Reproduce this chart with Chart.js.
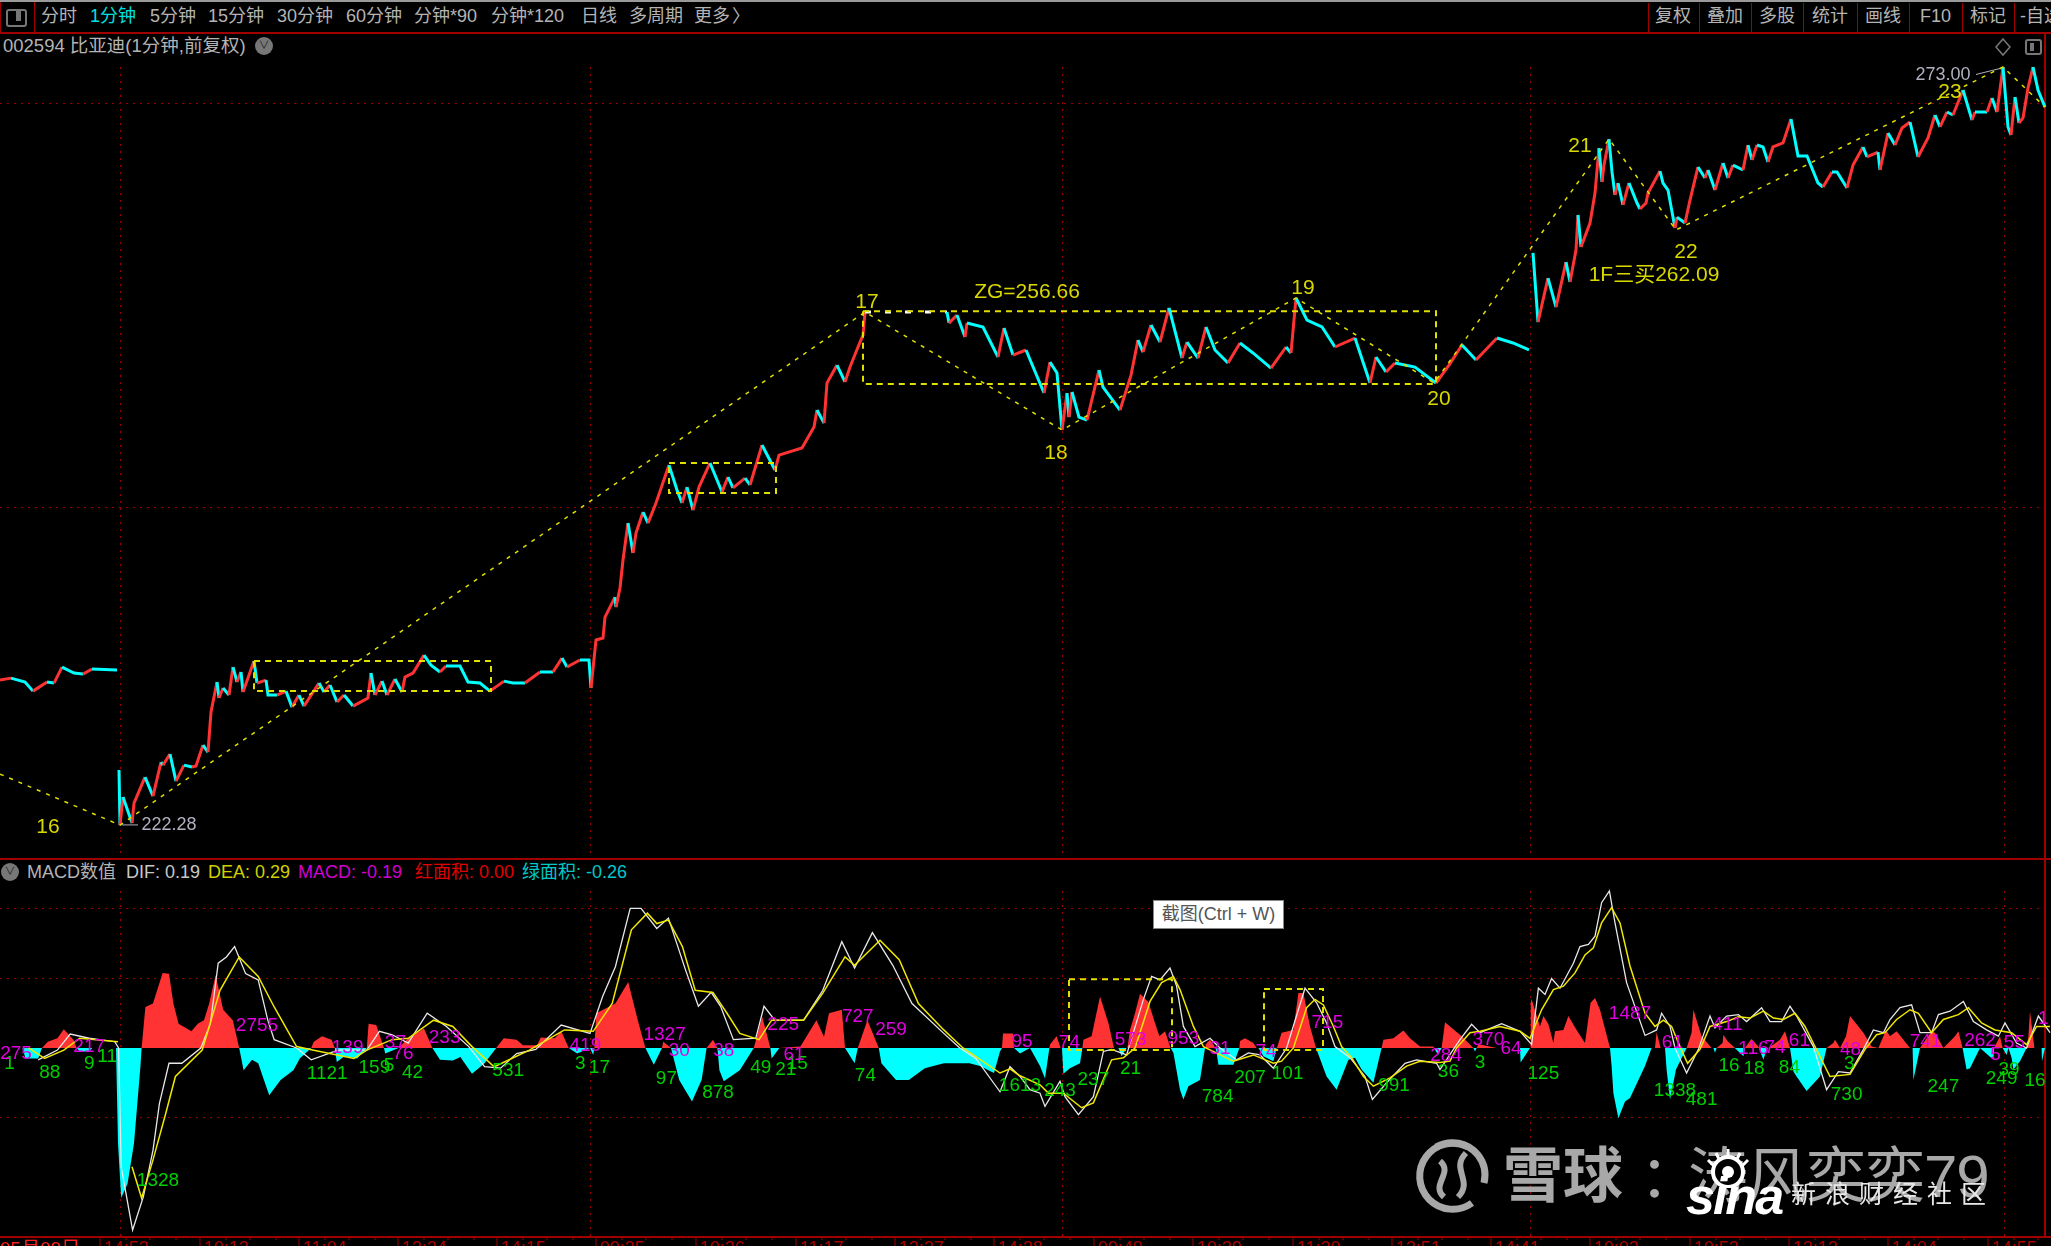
<!DOCTYPE html>
<html>
<head>
<meta charset="utf-8">
<title>002594</title>
<script src="https://cdn.jsdelivr.net/npm/chart.js@4/dist/chart.umd.min.js"></script>
<style>
html,body{margin:0;padding:0;background:#000;width:2051px;height:1246px;overflow:hidden;}
body{position:relative;font-family:"Liberation Sans","Noto Sans CJK SC",sans-serif;}
canvas{position:absolute;left:0;}
.t{position:absolute;white-space:nowrap;font-size:18px;line-height:20px;color:#b4b4b4;}
.line{position:absolute;background:#a00000;}
</style>
</head>
<body>
<div class="line" style="left:0;top:0;width:2051px;height:2px;background:#9a9a9a"></div>
<div class="line" style="left:0;top:32px;width:2051px;height:2px"></div>
<div class="line" style="left:0;top:858px;width:2051px;height:2px"></div>
<div class="line" style="left:0;top:1236px;width:2051px;height:2px"></div>
<div class="line" style="left:2044px;top:33px;width:2px;height:1204px"></div>
<div class="line" style="left:34px;top:2px;width:1px;height:30px"></div>
<div class="line" style="left:0;top:2px;width:1px;height:30px"></div>
<div id="toolbar"></div>
<div style="position:absolute;left:6px;top:9px;width:17px;height:14px;border:2px solid #777;border-radius:3px"></div>
<div style="position:absolute;left:16px;top:11px;width:5px;height:10px;background:#777"></div>
<div class="t" style="left:3px;top:36px;font-size:18.5px">002594 比亚迪(1分钟,前复权)</div>
<div style="position:absolute;left:255px;top:37px;width:18px;height:18px;border-radius:9px;background:#777;color:#222;font-size:11px;line-height:17px;text-align:center">&#8744;</div>
<svg style="position:absolute;left:1992px;top:36px" width="56" height="22">
  <path d="M11 3 L18 11 L11 19 L4 11 Z" fill="none" stroke="#777" stroke-width="1.5"/>
  <rect x="34" y="4" width="15" height="14" rx="2" fill="none" stroke="#777" stroke-width="2"/>
  <rect x="38" y="7" width="4" height="8" fill="#777"/>
</svg>
<div style="position:absolute;left:1px;top:863px;width:18px;height:18px;border-radius:9px;background:#777;color:#222;font-size:11px;line-height:17px;text-align:center">&#8744;</div>
<div class="t" style="left:27px;top:862px;font-size:18px">MACD数值</div>
<div class="t" style="left:126px;top:862px;font-size:18px;color:#c8c8c8">DIF: 0.19</div>
<div class="t" style="left:208px;top:862px;font-size:18px;color:#d0d000">DEA: 0.29</div>
<div class="t" style="left:298px;top:862px;font-size:18px;color:#d000d0">MACD: -0.19</div>
<div class="t" style="left:415px;top:862px;font-size:18px;color:#e00000">红面积: 0.00</div>
<div class="t" style="left:522px;top:862px;font-size:18px;color:#00c8c8">绿面积: -0.26</div>

<canvas id="mainChart" width="2051" height="826" style="top:33px"></canvas>
<canvas id="macdChart" width="2051" height="386" style="top:860px"></canvas>

<div class="t" style="left:1153px;top:900px;width:129px;height:27px;line-height:27px;background:#fff;border:1px solid #888;color:#555;text-align:center">截图(Ctrl + W)</div>

<svg style="position:absolute;left:1410px;top:1135px" width="90" height="84">
  <path d="M58 12 A33 33 0 1 0 62 68" fill="none" stroke="#a8a8a8" stroke-width="7"/>
  <path d="M26 12 A33 33 0 0 1 68 20 A33 33 0 0 1 74 48" fill="none" stroke="#a8a8a8" stroke-width="7"/>
  <path d="M30 26 C44 38 20 50 34 62 M56 18 C40 34 64 46 48 62" fill="none" stroke="#a8a8a8" stroke-width="6"/>
</svg>
<div class="t" style="left:1503px;top:1145px;font-size:60px;line-height:64px;color:#a8a8a8;font-weight:bold">雪球</div>
<div class="t" style="left:1640px;top:1145px;font-size:58px;line-height:64px;color:#a8a8a8">：</div>
<div class="t" style="left:1688px;top:1145px;font-size:60px;line-height:64px;color:#a8a8a8;letter-spacing:-1px">涛风奕奕79</div>
<svg style="position:absolute;left:1700px;top:1148px" width="60" height="40">
  <circle cx="28" cy="24" r="15" fill="#000" stroke="#fff" stroke-width="4"/>
  <circle cx="28" cy="24" r="6" fill="#fff"/>
  <path d="M8 12 L14 18 M16 5 L20 13 M28 1 L28 10 M40 5 L36 13 M48 12 L42 18" stroke="#fff" stroke-width="3"/>
</svg>
<div class="t" style="left:1686px;top:1170px;font-size:52px;line-height:52px;color:#fff;font-weight:bold;font-style:italic;letter-spacing:-2px">sina</div>
<div class="t" style="left:1791px;top:1180px;font-size:25px;line-height:28px;color:#e8e8e8;letter-spacing:9px">新浪财经社区</div>

<script>
// price line (bar number, price); null breaks the line at the day gaps
const priceBars = [0,5.5,12.5,16.5,23.5,27,31,37,41.5,46,58.5,59,
59.5,60,61.5,66,67,72.5,76.5,80.5,81.5,85,88,92,96,98,101.5,104,105.5,108.5,109.5,111.5,114.5,116.5,118.5,120.5,121.5,127,128.5,133,134,138.5,143,146,149.5,152,159.5,162,165,168.5,172,176.5,184,185.5,187.5,191,193.5,197.5,201,202.5,206.5,212,215.5,220,223,230,234,240,245,252,256.5,262.5,270,276.5,281,283.5,290,294.5,295.5,
298,301.5,302.5,307.5,308,310,311.5,314,316.5,318,321.5,324,328,334.5,338.5,341,343.5,346.5,349.5,355,361,364,366.5,372.5,375,381,387.5,389.5,401,407,408.5,412,413.5,418.5,422.5,425,429,431.5,432.5,473.5,474.5,478.5,482.5,483.5,491.5,499,502,506.5,513,522,525,528.5,531,533.5,534.5,536,539.5,543.5,549.5,551.5,560,565.5,569,571.5,575.5,580,584.5,591,593.5,599,603,607.5,614,620,626.5,635.5,643,645.5,648,653.5,661,667.5,677.5,685,688,693,697.5,707.5,718,724.5,731,738,748.5,756.5,764.5,765.5,
766.5,769,774,778,783,785,788,789,790.5,795,797.5,799.5,801,802,804.5,806,807.5,809,811.5,814.5,818.5,820,823,824,830,831.5,834,837.5,838.5,842.5,845,849,852.5,854,857.5,861.5,864,866.5,871.5,874,876,878.5,881.5,884,886.5,891.5,895.5,899,903.5,909,911.5,916,918.5,923.5,926.5,931.5,933.5,939,940,944,947.5,951,955,959,964,967.5,970,973.5,976.5,981.5,986,987.5,993.5,996,998.5,1001.5,1004,1005.5,1007.5,1009.5,1011.5,1014,1016.5,1019,1022.5];
const priceValues = [231.99,232.12,231.86,231.25,231.86,231.79,232.86,232.46,232.39,232.73,232.66,null,
225.97,222.29,224.16,222.42,223.76,225.5,224.23,226.5,226.3,227.04,225.23,226.3,226.17,226.24,227.64,227.17,229.85,231.86,230.79,231.46,230.99,232.86,231.86,232.53,231.19,233.26,231.79,231.99,230.99,230.99,231.25,230.18,230.99,230.25,231.79,231.19,231.66,230.52,230.99,230.25,230.79,232.46,230.99,231.92,230.99,232.06,231.19,232.19,232.46,233.66,232.99,232.53,232.93,232.93,231.86,231.79,231.25,231.92,231.79,231.79,232.53,232.53,233.46,232.86,233.33,233.33,231.46,
234.67,234.8,236.2,237.54,236.87,238.15,240.02,242.49,240.49,241.82,243.23,242.49,243.83,246.37,244.7,243.83,244.9,243.36,244.9,246.51,244.57,245.57,244.84,245.5,245.04,247.71,246.04,247.04,247.51,248.92,250.05,249.18,251.86,253.06,251.93,252.93,254.27,255.07,256.61,256.61,255.87,256.41,254.94,255.87,255.61,253.6,255.54,253.73,254.07,251.19,253.26,252.53,248.72,251.19,249.58,251.26,249.58,249.38,252.73,251.59,250.05,252.39,254.74,253.93,255.74,254.6,256.88,253.53,254.6,253.53,255.61,254.07,253.2,254.54,253.87,252.86,254.27,253.87,257.55,256.07,255.61,254.27,254.87,251.86,253.6,252.6,253.2,252.93,251.86,253.06,254.4,253.4,254.87,254.54,254.07,null,
260.56,255.94,258.88,256.94,259.95,258.62,260.76,263.1,260.96,262.56,264.57,267.58,265.31,266.44,268.18,265.98,264.44,265.24,263.77,265.24,263.9,263.5,263.9,264.57,266.04,265.24,264.77,262.23,262.96,262.56,264.1,266.31,265.57,266.11,264.77,266.58,265.57,266.44,266.11,267.78,266.78,267.78,267.65,266.64,267.65,267.92,269.52,267.05,267.05,265.24,264.97,265.98,265.98,264.91,266.44,267.65,266.98,267.31,266.11,268.58,267.78,268.92,269.32,266.98,268.25,269.79,268.99,269.99,269.79,271.46,269.45,269.99,269.99,270.93,269.99,273,268.99,268.45,270.99,269.25,269.59,271.6,273,271.46,270.32];

// chan zigzag and its pivot boxes
const zigzagBars = [0,60,432.5,531,648,717,804.5,838,1001.5,1022.5];
const zigzagValues = [225.7,222.29,256.61,248.72,257.55,251.86,268.18,262.1,273,270.32];
const boxLeft = [127,334.5,431.5];
const boxRight = [245.5,388,718];
const boxTop = [233.26,246.51,256.66];
const boxBottom = [231.25,244.5,251.79];

const priceGridValues = [243.5,270.59];
const dayBars = [60,295,531,765,1002];

const mainTexts = ["16","17","ZG=256.66","18","19","20","21","22","1F三买262.09","23"];
const mainTextBars = [24,433.5,513.5,528,651.5,719.5,790,843,827,975];
const mainTextValues = [222.16,257.28,257.95,247.18,258.22,250.8,267.71,260.62,259.08,271.33];
const extremeTexts = ["222.28","273.00"];
const extremeBars = [84.5,971.5];
const extremeValues = [222.3,272.46];
const extremeArrowBars = [[61,69],[988,1000]];
const extremeArrowValues = [[222.3,222.3],[272.5,272.9]];

// MACD histogram
const macdBars = [0,11.2,12.8,19.1,21,23.9,28.7,31.9,36.7,38.3,39.9,44.6,46.2,58,59,60.6,63.8,67,70.2,70.8,72.7,76.5,81.3,84.5,86.7,89.3,95.7,98.9,102,104.6,107.8,111.6,116.4,119.6,121.8,126,129.1,134.6,140.3,146.7,149.9,155.6,156.9,161,165.8,167.4,168.4,172.2,178.6,183.4,184.3,188.1,192,192.6,199.3,204,212,216.2,220,226.4,230.2,236,242.3,248.1,251.9,258.3,261.5,268.5,270.4,277.4,280.6,284.4,288.6,295,296.6,297.2,298.1,307.7,314.1,318.9,322.7,326.9,331,331.6,335.5,339.6,346,350.8,353.3,356.5,358.7,359.7,361.9,369.9,376.9,381.1,385.2,385.8,389.7,400.2,408.2,412,414.5,420.9,422.5,427.3,428.9,433.7,439.4,440.7,448,454.4,462.4,471.9,484.7,490,497,500,501,501.5,506.5,507,510,515,520,522.5,524.7,
525,528.3,530.3,531,531.7,535,540,541.2,541.7,545.8,550,554.2,557,559.2,560.8,563.3,563.7,565,567.5,570,574.2,577.5,579.7,582.5,585.3,586.7,590,591.7,594.2,600,602.5,602.8,605,607.8,608.3,609.2,616.7,619.7,620,622.5,626.7,628.3,629.2,631.7,636.7,638.3,638.7,640.8,646.7,649.2,651.7,655,658,658.3,663.3,668.3,674.2,677.5,680.8,686.7,690.8,691.7,696.7,701.7,705,710,716.7,719,720.8,721.7,722.5,730.8,736.7,737.5,738.3,739.2,740,748.3,760,760.3,765,765.4,
765.8,770,771.7,774.2,776.7,777.5,781.7,784.2,788.3,792.5,795.3,797.5,800,805,805.8,806.7,809.2,812.5,815,822.5,825.8,827.5,828.3,830.3,832.5,833.3,835,838,843.3,845.8,846.7,850.8,855.8,856.7,857.5,858.3,861.3,861.7,863.7,866.7,871.7,872.5,874.2,875.8,879.2,881.7,883.3,890,892.5,895,896.7,898.3,903.3,910,913.3,916.7,917.5,920,923,925,931.7,935.8,939.2,941.7,943,945,948.3,955,956.3,956.7,960,965.8,967.5,971.7,977.5,979.2,981.3,983.3,985,990,996.7,997,1000,1001.3,1003.3,1004.2,1005.8,1006.7,1010,1013.3,1014.2,1015,1017.2,1020.8,1021,1022.5,1023];
const macdValues = [0,0,-0.15,-0.15,0,0.09,0.14,0.27,0.12,0,-0.05,-0.05,0,0,-1.37,-2.16,-1.95,-1.37,-0.27,0,0.59,0.64,1.08,1.07,0.64,0.35,0.24,0.35,0.4,0.64,1.05,0.55,0.4,0,-0.32,-0.17,-0.22,-0.68,-0.46,-0.32,-0.15,0,0.09,0.17,0.12,0,-0.2,-0.12,-0.15,0,0.35,0.33,0,-0.08,0,0.14,0.28,0,-0.17,-0.18,-0.13,-0.37,-0.22,0,0.14,0.12,0.04,0.04,0.15,0.14,0.24,0,-0.08,0,-0.1,0,0.5,0.64,0.95,0.4,0,-0.24,0,0.09,0,-0.46,-0.77,-0.46,0,0.12,0,-0.32,-0.48,-0.32,0,0.45,0,-0.15,0,0.02,0.4,0.16,0.5,0.55,0,-0.22,0,0.4,0,-0.22,-0.46,-0.46,-0.29,-0.22,-0.22,-0.26,-0.36,-0.05,0,0.21,0.21,0,-0.08,0,-0.26,-0.44,0,
0.05,0.17,0,0,-0.37,-0.29,-0.22,0,0.12,0.17,0.74,0.36,0,0,-0.12,0,0,0.26,0.5,0.78,0.66,0.36,0.17,0.24,0,-0.07,-0.6,-0.74,-0.55,-0.46,0,0.05,0.12,0,-0.07,-0.24,-0.24,0,0.1,0.14,0.07,0,0,-0.12,-0.19,0,0.02,0.22,0.26,0.79,0.79,0.31,0,0,-0.41,-0.6,-0.17,-0.14,-0.31,-0.5,0,0.12,0.14,0.25,0.14,0.02,0.02,-0.1,0,0.19,0.37,0.17,0,-0.05,0,0.05,0.05,0,0,-0.21,0,
0.65,0.7,0.31,0.46,0.34,0.07,0.24,0.26,0.46,0.26,0.07,0.65,0.72,0.55,0,-0.26,-0.65,-1.01,-0.77,-0.72,-0.26,0,0,0.23,0,0,-0.31,-0.74,-0.31,0,0.22,0.55,0.17,0,0,-0.07,0,0.07,0.19,0.1,0.02,-0.12,0,0.07,0.13,0.02,-0.17,-0.02,0.12,0.24,0,-0.34,-0.41,-0.62,-0.41,0,0.07,0.12,0,0.17,0.46,0.22,0.02,0,0.17,0.26,0.17,0.24,0,0,-0.46,0,0.24,0.22,0,0.17,0.24,0,-0.31,-0.29,0,-0.17,0,0.17,0,-0.1,0,-0.14,-0.31,-0.19,0,0.17,0.53,0,0,-0.19,0];

// DIF (white)
const difBars = [19.1,28.7,35.1,44.6,57.4,59.3,60.6,66.3,71.7,76.5,79.7,84.5,90.9,100.4,105.2,109.1,113.2,117.3,122.8,129.1,133.9,137.1,148.3,155.6,169,183.4,189.7,196.1,204.1,213.6,223.2,234.4,242.3,250.3,258.3,267.9,280.6,295,301.3,307.7,315.1,320.5,328.4,334.2,342.8,349.2,355.6,360.3,366.7,377.9,382,387.4,401.8,411.4,420.9,427.3,436.2,446.4,456,471.9,479.9,487.9,500,505,510,515,
520,522.5,530,532.5,539.2,546.7,551.7,555.8,563.3,571.7,575.8,580,585,588.3,591.7,597.5,605,610,618.3,624.2,630,636.7,643.3,652.5,658.3,663.3,667.5,675,682.5,686.2,693.3,702.5,708.3,718.3,720,726.7,730,735.8,740,750.8,760,765.8,
769.2,772.5,775.8,780,786.7,790,794.2,797.5,800.8,804.7,807.5,813.3,822.5,828.3,830.8,835,837.5,843.3,849.2,855,857.5,863.3,869.2,873.3,880.8,885,890.8,895,898.3,906.7,913.3,919.2,925,931.7,936.7,941.7,945,950,955.8,960,965.8,969.2,975,981.7,986.7,993.3,999.2,1002.5,1008.3,1013.3,1019.2,1025];
const difValues = [-0.17,-0.03,0.2,0.14,0.09,0,-1.71,-2.62,-2.14,-1.47,-0.8,-0.22,-0.22,0,0.35,1.22,1.31,1.46,1.07,0.98,0.4,0.12,0,-0.17,-0.03,-0.03,0.24,0.19,0.07,0.5,0.31,0.02,-0.27,-0.29,-0.08,-0.02,0.33,0.21,0.74,1.17,2.01,2.01,1.72,1.87,1.12,0.6,0.8,0.6,0.12,0.14,0.6,0.4,0.4,0.83,1.53,1.15,1.66,1.19,0.64,0.21,0,-0.15,-0.63,-0.27,-0.41,-0.6,
-0.65,-0.84,-0.48,-0.7,-0.96,-0.7,-0.05,-0.02,-0.1,0.7,1.03,0.98,1.15,0.89,0.31,0.02,0.14,0,-0.17,-0.07,-0.1,-0.29,0,0.86,0.65,0.36,0.02,-0.14,-0.41,-0.74,-0.5,-0.22,-0.17,-0.22,-0.31,-0.02,0.12,0.34,0.22,0.35,0.24,0.05,
0.86,0.77,1,0.86,1.22,1.46,1.49,1.61,2.09,2.26,1.8,0.94,0.18,0.26,0.5,0.31,0,-0.36,-0.02,0.46,0.29,0.46,0.48,0.38,0.58,0.38,0.38,0.6,0.46,0.02,-0.6,-0.34,-0.36,-0.02,0.26,0.22,0.41,0.58,0.62,0.22,0.22,0.48,0.53,0.67,0.38,0.26,0.17,0.36,0.07,0,0.46,0.22];

// DEA (yellow), broken once where the line restarts
const deaBars = [14.3,22.3,31.9,39.9,59,60,66,70.8,76.5,82.9,87.7,101.1,110,119.6,129.1,137.1,148.3,156.3,177,183.4,196.1,204.1,216.8,226.4,236,247.1,264.7,282.2,296.6,306.1,315.7,323.7,328.4,334.2,341.2,347.6,356.5,363.5,369.9,379.5,385.8,401.8,411.4,422.5,427.3,440,449.6,459.2,471.9,481.5,500,505,510,
520,524.2,531.7,540.8,546.7,555.8,561.7,567.5,575,580.8,586.7,590,596.7,601.7,616.7,626.7,636.7,640.8,646.7,653.3,657.5,661.7,666.7,670.8,675.8,681.7,686.7,695,703.3,710,720,725,728.3,735,740,750,760,765,
770.8,776.7,781.7,787.5,792.5,796.7,800.8,805.8,810,815,822.5,827.5,831.7,835.8,840,843.8,850,855,863.3,869.2,875,881.7,886.7,891.7,897.5,902.5,907.5,915,925,932.5,938.3,942.5,948.3,955,959.2,965.8,971.7,979.2,984.2,990.8,997.5,1005.8,1013.3,1018.3,1025];
const deaValues = [0,-0.15,-0.03,0.14,0.09,null,-1.71,-2.16,-1.61,-0.94,-0.41,-0.03,0.83,1.31,1.03,0.59,0.02,-0.03,-0.15,-0.03,0.12,0.14,0.4,0.31,0.02,-0.27,-0.03,0.26,0.24,0.64,1.7,1.94,1.79,1.84,1.46,0.83,0.8,0.5,0.21,0.12,0.4,0.4,0.79,1.31,1.19,1.55,1.27,0.64,0.26,0,-0.36,-0.3,-0.4,
-0.53,-0.65,-0.65,-0.86,-0.79,-0.17,-0.14,0,0.67,0.94,1.03,0.84,0.31,0.02,-0.19,-0.1,-0.22,-0.19,0,0.58,0.7,0.62,0.31,0.02,-0.14,-0.41,-0.55,-0.43,-0.26,-0.19,-0.21,-0.19,0,0.22,0.24,0.31,0.24,0.14,
0.55,0.84,0.89,1.08,1.34,1.44,1.8,2.02,1.8,1.18,0.5,0.31,0.4,0.31,0.02,-0.22,-0.02,0.31,0.38,0.45,0.43,0.53,0.43,0.41,0.5,0.31,0.02,-0.41,-0.38,-0.02,0.19,0.22,0.41,0.55,0.5,0.22,0.41,0.48,0.58,0.36,0.26,0.22,0.05,0.31,0.31];

const macdBoxLeft = [534.5,632];
const macdBoxRight = [586,661.5];
const macdBoxTop = [0.99,0.85];
const macdBoxBottom = [-0.03,-0.03];
const macdGridValues = [-1,1,2];

const pinkTexts = ["275","217","2755","139","37","76","233","419","1327","30","38","225","61","727","259","95","74","573","953","31","74","715","284","370","64","1487","61","411","116","74","61","48","741","262","5","55","1"];
const pinkBars = [8,44.6,128.5,173.8,197.7,201.5,222.3,292.7,332.3,339.6,361.9,391.6,397,428.9,445.5,511,534.7,565.3,591.7,610,633,663.7,723,744.2,755.5,815,836.2,863.7,876.7,887.5,899.7,925.3,962.8,990,997.8,1007.2,1021.7];
const pinkValues = [-0.08,0.02,0.32,0,0.07,-0.09,0.15,0.03,0.19,-0.04,-0.04,0.34,-0.1,0.45,0.26,0.09,0.07,0.12,0.13,-0.01,-0.06,0.37,-0.11,0.12,-0.01,0.49,0.07,0.33,-0.01,0,0.11,-0.02,0.09,0.11,-0.1,0.08,0.42];
const greenTexts = ["1","88","9","11","1328","1121","159","5","42","531","3","17","97","878","49","21","15","74","1613","243","237","21","784","207","101","991","36","3","125","1338","481","16","18","84","3","730","247","39","249","16"];
const greenBars = [4.8,24.9,44.6,53.6,79,163.6,187.2,194.5,206.3,254.1,290.2,299.7,333.2,359,380.4,392.9,398.6,432.7,510,530,546.7,565.3,608.8,625,643.8,697,724.2,740,771.7,837.5,850.8,864.5,877,894.7,924.7,923.3,971.7,1004.5,1000.8,1017.5];
const greenValues = [-0.22,-0.35,-0.22,-0.12,-1.91,-0.37,-0.28,-0.26,-0.35,-0.33,-0.23,-0.29,-0.44,-0.65,-0.29,-0.31,-0.22,-0.4,-0.55,-0.61,-0.46,-0.3,-0.7,-0.43,-0.37,-0.54,-0.34,-0.21,-0.37,-0.61,-0.74,-0.25,-0.3,-0.29,-0.22,-0.67,-0.56,-0.31,-0.44,-0.47];

const timeLabels = ["14:53","10:13","11:04","13:24","14:15","09:35","10:26","11:17","13:27","14:28","09:49","10:39","11:30","13:51","14:41","10:02","10:53","13:13","14:04","14:55"];
const timeBars = [50,100,149.5,199,248.5,298,348,398,447.5,497,547,596.5,646.5,696,745.5,795,845,894.5,944,994];

const toolbarLeft = ["分时","1分钟","5分钟","15分钟","30分钟","60分钟","分钟*90","分钟*120","日线","多周期","更多","〉"];
const toolbarLeftX = [41,90,150,208,277,346,414,491,581,629,694,732];
const toolbarRight = ["复权","叠加","多股","统计","画线","F10","标记","-自选"];
const toolbarRightX = [1655,1707,1759,1812,1865,1920,1970,2020];
const toolbarSeps = [1648,1699,1751,1803,1857,1909,1962,2014];

const RED = "#ff3333";
const CYAN = "#00ffff";
const YELLOW = "#e0e000";
const GRID = "#9a0000";
const LABEL_FONT = '"Liberation Sans","Noto Sans CJK SC",sans-serif';
const X_MAX = 1025.5;

function pts(xs, ys){
    return xs.map((x, i) => ({x: x, y: ys[i]}));
}

function boxPts(i, left, right, top, bottom){
    return [
        {x: left[i], y: top[i]},
        {x: right[i], y: top[i]},
        {x: right[i], y: bottom[i]},
        {x: left[i], y: bottom[i]},
        {x: left[i], y: top[i]}
    ];
}

function boxDataset(i, left, right, top, bottom){
    return {
        data: boxPts(i, left, right, top, bottom),
        borderColor: YELLOW,
        borderWidth: 2,
        borderDash: [6, 5],
        pointRadius: 0,
        clip: false,
        order: 1
    };
}

function scalesFor(gridValues, top, bottom){
    return {
        x: {
            type: "linear",
            min: 0,
            max: X_MAX,
            border: {display: false, dash: [2, 5]},
            grid: {color: GRID, drawTicks: false, lineWidth: 1},
            ticks: {display: false, autoSkip: false},
            afterBuildTicks: s => { s.ticks = dayBars.map(v => ({value: v})); }
        },
        y: {
            min: bottom,
            max: top,
            border: {display: false, dash: [2, 5]},
            grid: {color: GRID, drawTicks: false, lineWidth: 1},
            ticks: {display: false, autoSkip: false},
            afterBuildTicks: s => { s.ticks = gridValues.map(v => ({value: v})); }
        }
    };
}

function writeTexts(chart, texts, bars, values, color, size){
    const ctx = chart.ctx;
    ctx.save();
    ctx.font = size + "px " + LABEL_FONT;
    ctx.fillStyle = color;
    ctx.textAlign = "center";
    ctx.textBaseline = "middle";
    texts.forEach((t, i) => {
        ctx.fillText(t, chart.scales.x.getPixelForValue(bars[i]), chart.scales.y.getPixelForValue(values[i]));
    });
    ctx.restore();
}

const mainLabels = {
    id: "mainLabels",
    afterDatasetsDraw(chart){
        writeTexts(chart, mainTexts, mainTextBars, mainTextValues, "#d8d800", 21);
        writeTexts(chart, extremeTexts, extremeBars, extremeValues, "#b0b0c0", 18);
    }
};

const macdLabels = {
    id: "macdLabels",
    afterDatasetsDraw(chart){
        writeTexts(chart, greenTexts, greenBars, greenValues, "#00d000", 19);
        writeTexts(chart, pinkTexts, pinkBars, pinkValues, "#e000e0", 19);

        const ctx = chart.ctx;
        const x = chart.scales.x;
        const bottom = chart.chartArea.bottom;
        ctx.save();
        ctx.strokeStyle = "#a00000";
        ctx.lineWidth = 1;
        ctx.fillStyle = "#b00000";
        ctx.font = "18px " + LABEL_FONT;
        ctx.textBaseline = "top";
        ctx.textAlign = "left";
        timeBars.forEach((b, i) => {
            const px = x.getPixelForValue(b);
            ctx.beginPath();
            ctx.moveTo(px, bottom);
            ctx.lineTo(px, bottom + 9);
            [13, 25, 38].forEach(off => {
                const m = x.getPixelForValue(b + off);
                ctx.moveTo(m, bottom);
                ctx.lineTo(m, bottom + 3);
            });
            ctx.stroke();
            ctx.fillText(timeLabels[i], px + 4, bottom + 3);
        });
        ctx.fillStyle = "#ff2020";
        ctx.font = "19px " + LABEL_FONT;
        ctx.fillText("05月09日", 0, bottom + 3);
        ctx.restore();
    }
};

function isFlatRun(c){
    return c.p1.parsed.y === c.p0.parsed.y && c.p1.parsed.x - c.p0.parsed.x > 20;
}

function buildToolbar(){
    let html = "";
    toolbarLeft.forEach((t, i) => {
        const c = i === 1 ? "color:#00e0e0;" : "";
        html += `<div class="t" style="left:${toolbarLeftX[i]}px;top:6px;${c}">${t}</div>`;
    });
    toolbarRight.forEach((t, i) => {
        html += `<div class="t" style="left:${toolbarRightX[i]}px;top:6px;max-width:${2051 - toolbarRightX[i]}px;overflow:hidden">${t}</div>`;
    });
    toolbarSeps.forEach(x => {
        html += `<div class="line" style="left:${x}px;top:3px;width:1px;height:29px"></div>`;
    });
    document.getElementById("toolbar").innerHTML = html;
}

function buildMain(){
    const datasets = [
        {
            data: pts(priceBars, priceValues),
            borderWidth: 3,
            borderColor: CYAN,
            pointRadius: 0,
            clip: false,
            order: 3,
            borderCapStyle: "butt",
            borderJoinStyle: "miter",
            segment: {
                borderColor: c => {
                    if(c.p1.parsed.y > c.p0.parsed.y) return RED;
                    if(isFlatRun(c)) return "#ffffff";
                    return CYAN;
                },
                borderDash: c => isFlatRun(c) ? [6, 14] : undefined
            }
        },
        {
            data: pts(zigzagBars, zigzagValues),
            borderColor: YELLOW,
            borderWidth: 1.5,
            borderDash: [4, 6],
            pointRadius: 0,
            clip: false,
            order: 2
        }
    ];
    boxLeft.forEach((v, i) => datasets.push(boxDataset(i, boxLeft, boxRight, boxTop, boxBottom)));
    extremeArrowBars.forEach((b, i) => {
        datasets.push({
            data: pts(b, extremeArrowValues[i]),
            borderColor: "#b0b0c0",
            borderWidth: 1,
            pointRadius: 0,
            clip: false,
            order: 0
        });
    });

    new Chart(document.getElementById("mainChart"), {
        type: "line",
        data: {datasets: datasets},
        options: {
            responsive: false,
            animation: false,
            devicePixelRatio: 1,
            layout: {padding: {top: 34, bottom: 0, left: 0, right: 0}},
            plugins: {legend: {display: false}, tooltip: {enabled: false}},
            scales: scalesFor(priceGridValues, 273, 220.02)
        },
        plugins: [mainLabels]
    });
}

function buildMacd(){
    const datasets = [
        {
            data: pts(macdBars, macdValues),
            borderWidth: 0,
            pointRadius: 0,
            fill: {target: {value: 0}, above: RED, below: CYAN},
            order: 5
        },
        {
            data: pts(difBars, difValues),
            borderColor: "#e8e8e8",
            borderWidth: 1.3,
            pointRadius: 0,
            clip: false,
            order: 3
        },
        {
            data: pts(deaBars, deaValues),
            borderColor: "#f0e800",
            borderWidth: 1.5,
            pointRadius: 0,
            clip: false,
            spanGaps: false,
            order: 2
        }
    ];
    macdBoxLeft.forEach((v, i) => datasets.push(boxDataset(i, macdBoxLeft, macdBoxRight, macdBoxTop, macdBoxBottom)));

    new Chart(document.getElementById("macdChart"), {
        type: "line",
        data: {datasets: datasets},
        options: {
            responsive: false,
            animation: false,
            devicePixelRatio: 1,
            layout: {padding: {top: 31, bottom: 9, left: 0, right: 0}},
            plugins: {legend: {display: false}, tooltip: {enabled: false}},
            scales: scalesFor(macdGridValues, 2.259, -2.72)
        },
        plugins: [macdLabels]
    });
}

window.onload = () => {

    buildToolbar();

    buildMain();

    buildMacd();
};
</script>
</body>
</html>
